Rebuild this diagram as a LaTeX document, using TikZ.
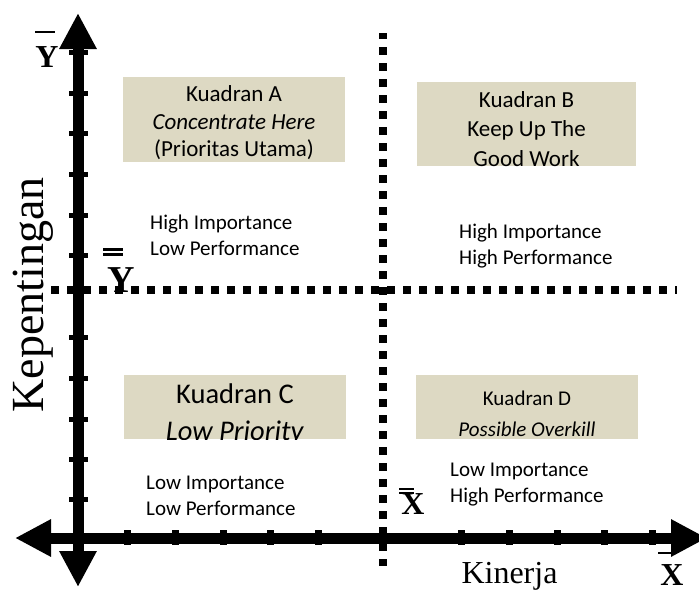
\documentclass[tikz,border=0pt]{standalone}
\usepackage{fontspec}
\setmainfont{Liberation Serif}
\newfontfamily\calibri{Carlito}
\usetikzlibrary{arrows.meta}
\definecolor{quadfill}{HTML}{DDD9C3}
\begin{document}
\begin{tikzpicture}[x=1pt, y=-1pt,
    axis/.style={line width=11pt, {Triangle[length=36pt,width=35pt]}-{Triangle[length=36pt,width=35pt]}},
    tickmark/.style={fill=black},
    dotline/.style={line width=8pt, dash pattern=on 8pt off 8pt},
    quad/.style={fill=quadfill, inner sep=0pt},
    quadtext/.style={align=center, inner sep=0pt},
    freetext/.style={align=left, anchor=west, inner sep=0pt, font=\calibri\fontsize{21}{26}\selectfont},
    meanlabel/.style={inner sep=0pt, font=\bfseries\fontsize{32}{32}\selectfont},
    bar/.style={line width=2.5pt}]
    \clip (0,0) rectangle (699,592);
    % kuadran boxes
    \node[quad, minimum width=222pt, minimum height=85pt] (kuadA) at (234,119.5) {};
    \node[quad, minimum width=219pt, minimum height=84pt] (kuadB) at (526.5,124) {};
    \node[quad, minimum width=222pt, minimum height=64pt] (kuadC) at (235,407) {};
    \node[quad, minimum width=222pt, minimum height=64pt] (kuadD) at (527,406.5) {};
    \node[quadtext, font=\calibri\fontsize{23}{27.5}\selectfont] (textA) at (234,123)
        {Kuadran A\\\textit{Concentrate Here}\\(Prioritas Utama)};
    \begin{scope}
        \clip (kuadB.north west) rectangle (kuadB.south east);
        \node[quadtext, font=\calibri\fontsize{23}{29.5}\selectfont] (textB) at (526.5,129)
            {Kuadran B\\Keep Up The\\Good Work};
    \end{scope}
    \begin{scope}
        \clip (kuadC.north west) rectangle (kuadC.south east);
        \node[quadtext, font=\calibri\fontsize{28.5}{37}\selectfont] (textC) at (235,414)
            {Kuadran C\\\textit{Low Priority}};
    \end{scope}
    \begin{scope}
        \clip (kuadD.north west) rectangle (kuadD.south east);
        \node[quadtext, font=\calibri\fontsize{21}{31}\selectfont] (textD) at (527,414)
            {Kuadran D\\\textit{Possible Overkill}};
    \end{scope}
    % keterangan
    \node[freetext] (hilp) at (150,235) {High Importance\\Low Performance};
    \node[freetext] (hihp) at (459,246) {High Importance\\High Performance};
    \node[freetext] (lilp) at (146,495.5) {Low Importance\\Low Performance};
    \node[freetext] (lihp) at (450,485) {Low Importance\\High Performance};
    % garis rata-rata
    \draw[dotline, dash phase=2pt] (382.5,33) -- (382.5,566);
    \draw[dotline] (51,290) -- (677,290);
    % sumbu
    \coordinate (ytop) at (78,13);
    \coordinate (ybot) at (78,587);
    \coordinate (xleft) at (15,538);
    \coordinate (xright) at (707,538);
    \draw[axis] (ybot) -- (ytop);
    \draw[axis] (xleft) -- (xright);
    \foreach \ty in {52,93,133,174,215,255,337,378,419,459,499}
        \fill[tickmark] (69,\ty-2.5) rectangle (88,\ty+2.5);
    \foreach \tx in {127,175,223,270,318,461,509,557,604,652}
        \fill[tickmark] (\tx-3.5,530) rectangle (\tx+3.5,545);
    % label
    \node[meanlabel] (ybar) at (47,57) {Y};
    \draw[bar] (35,32) -- (55,32);
    \node[meanlabel, font=\bfseries\fontsize{38}{38}\selectfont] (ydbar) at (121,280) {Y};
    \draw[bar] (103,249.5) -- (123,249.5);
    \draw[bar] (103,254.5) -- (123,254.5);
    \node[meanlabel] (xdbar) at (413,504) {X};
    \draw[bar] (399,489) -- (414,489);
    \draw[bar] (399,493) -- (414,493);
    \node[meanlabel] (xbar) at (672,575) {X};
    \draw[bar] (658,553) -- (673,553);
    \node[inner sep=0pt, anchor=base, font=\fontsize{32}{32}\selectfont] (kinerja) at (509.5,583) {Kinerja};
    \node[inner sep=0pt, anchor=base, rotate=90, font=\fontsize{46}{46}\selectfont] (kepentingan) at (43,295) {Kepentingan};
\end{tikzpicture}
\end{document}
